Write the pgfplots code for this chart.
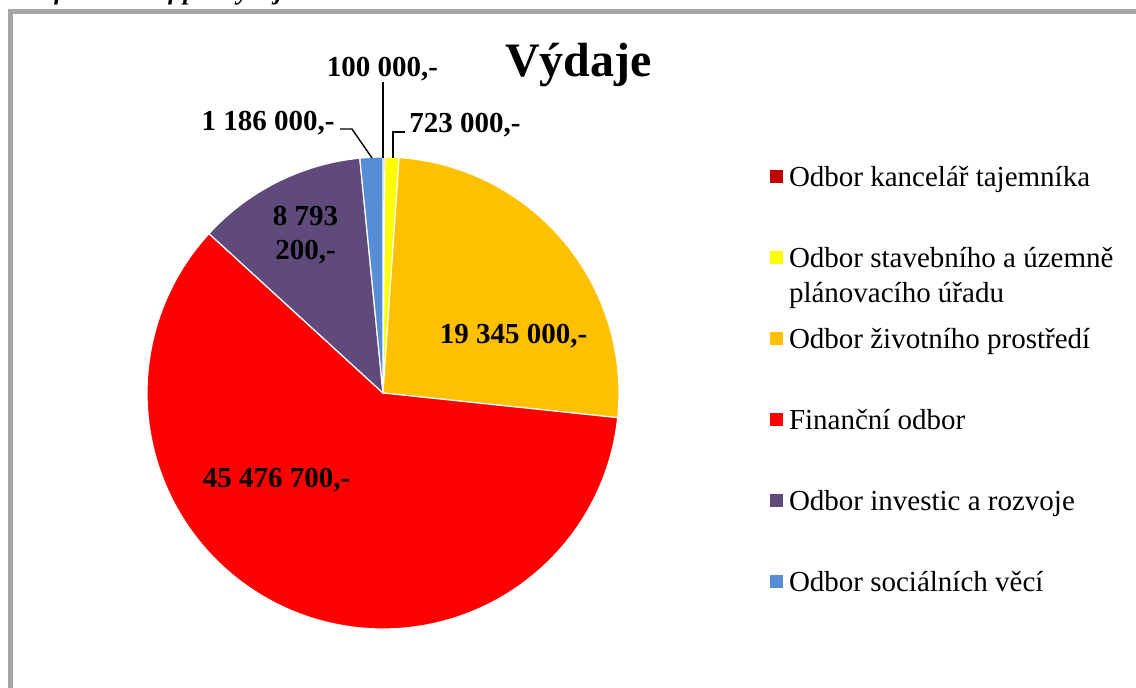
\documentclass[border=0pt]{standalone}
\usepackage{fontspec}
\setmainfont{Liberation Serif}
\usepackage{pgfplots}
\pgfplotsset{compat=1.18}
\definecolor{cKanc}{HTML}{C00000}
\definecolor{cStav}{HTML}{FFFF00}
\definecolor{cZiv}{HTML}{FFC000}
\definecolor{cFin}{HTML}{FF0000}
\definecolor{cInv}{HTML}{604A7B}
\definecolor{cSoc}{HTML}{558ED5}
\definecolor{frameGray}{HTML}{A6A6A6}
% values (CZK)
\def\vA{100000}   % Odbor kancelar tajemnika
\def\vB{723000}   % Odbor stavebniho a uzemne planovaciho uradu
\def\vC{19345000} % Odbor zivotniho prostredi
\def\vD{45476700} % Financni odbor
\def\vE{8793200}  % Odbor investic a rozvoje
\def\vF{1186000}  % Odbor socialnich veci
\edef\vT{\fpeval{\vA+\vB+\vC+\vD+\vE+\vF}}
\edef\aO{90}
\edef\aA{\fpeval{\aO-360*\vA/\vT}}
\edef\aB{\fpeval{\aA-360*\vB/\vT}}
\edef\aC{\fpeval{\aB-360*\vC/\vT}}
\edef\aD{\fpeval{\aC-360*\vD/\vT}}
\edef\aE{\fpeval{\aD-360*\vE/\vT}}
\edef\aF{\fpeval{\aE-360*\vF/\vT}}
\newcommand\lf{\fontsize{29}{33}\selectfont\bfseries}
\begin{document}
\begin{tikzpicture}[x=1pt,y=1pt]
\useasboundingbox (0,0) rectangle (1136,688);
\clip (0,0) rectangle (1136,688);
\fill[white] (0,0) rectangle (1136,688);
\node[anchor=base west, inner sep=0, font=\fontsize{26}{30}\selectfont\bfseries\itshape] at (12,688) {Graf č. 4: Graf pro výdaje v roce 2014};
\draw[frameGray, line width=5pt] (1160,676.5) -- (10.5,676.5) -- (10.5,-20);
\coordinate (legpos) at (623,464.5);
\coordinate (piec) at (383,295);
\begin{axis}[
  at={(piec)}, anchor=center,
  width=472pt, height=472pt, scale only axis,
  xmin=-1, xmax=1, ymin=-1, ymax=1,
  hide axis, clip=false,
  legend cell align=left,
  legend image code/.code={\fill[#1,draw=none] (0pt,-3pt) rectangle (13pt,10pt);},
  legend style={at={(legpos)}, anchor=north west, draw=none, fill=none,
    inner sep=0pt, outer sep=0pt, row sep=50pt,
    font=\fontsize{29}{35}\selectfont,
    nodes={inner sep=2pt, text height=20pt, text depth=7pt},
    /tikz/every odd column/.append style={column sep=4pt}},
]
\addplot[fill=cKanc, draw=white, line width=1.2pt, domain=\aA:\aO, samples=5, variable=\t] ({cos(\t)},{sin(\t)}) -- (axis cs:0,0) -- cycle;
\addlegendentry{Odbor kancelář tajemníka}
\addplot[fill=cStav, draw=white, line width=1.2pt, domain=\aB:\aA, samples=8, variable=\t] ({cos(\t)},{sin(\t)}) -- (axis cs:0,0) -- cycle;
\addlegendentry{\begin{tabular}[t]{@{}l@{}}Odbor stavebního a územně\\plánovacího úřadu\end{tabular}}
\addplot[fill=cZiv, draw=white, line width=1.2pt, domain=\aC:\aB, samples=90, variable=\t] ({cos(\t)},{sin(\t)}) -- (axis cs:0,0) -- cycle;
\addlegendentry{Odbor životního prostředí}
\addplot[fill=cFin, draw=white, line width=1.2pt, domain=\aD:\aC, samples=200, variable=\t] ({cos(\t)},{sin(\t)}) -- (axis cs:0,0) -- cycle;
\addlegendentry{Finanční odbor}
\addplot[fill=cInv, draw=white, line width=1.2pt, domain=\aE:\aD, samples=40, variable=\t] ({cos(\t)},{sin(\t)}) -- (axis cs:0,0) -- cycle;
\addlegendentry{Odbor investic a rozvoje}
\addplot[fill=cSoc, draw=white, line width=1.2pt, domain=\aF:\aE, samples=10, variable=\t] ({cos(\t)},{sin(\t)}) -- (axis cs:0,0) -- cycle;
\addlegendentry{Odbor sociálních věcí}
\end{axis}
% title and data labels
\node[anchor=base, inner sep=0, font=\fontsize{48}{56}\selectfont\bfseries] at (578.5,611) {Výdaje};
\node[anchor=base, inner sep=0, font=\lf] at (382.5,611) {100 000,-};
\node[anchor=base, inner sep=0, font=\lf] at (465,555) {723 000,-};
\node[anchor=base, inner sep=0, font=\lf] at (268,557) {1 186 000,-};
\node[anchor=base, inner sep=0, font=\lf] at (305.5,462) {8 793};
\node[anchor=base, inner sep=0, font=\lf] at (305.5,428) {200,-};
\node[anchor=base, inner sep=0, font=\lf] at (513.5,344) {19 345 000,-};
\node[anchor=base, inner sep=0, font=\lf] at (276.5,200) {45 476 700,-};
% leader lines
\draw[line width=1.4pt] (383,606) -- (383,530);
\draw[line width=1.4pt] (405,556) -- (393,556) -- (393,530);
\draw[line width=1.4pt] (340,559) -- (352,559) -- (372,530);
\end{tikzpicture}
\end{document}
